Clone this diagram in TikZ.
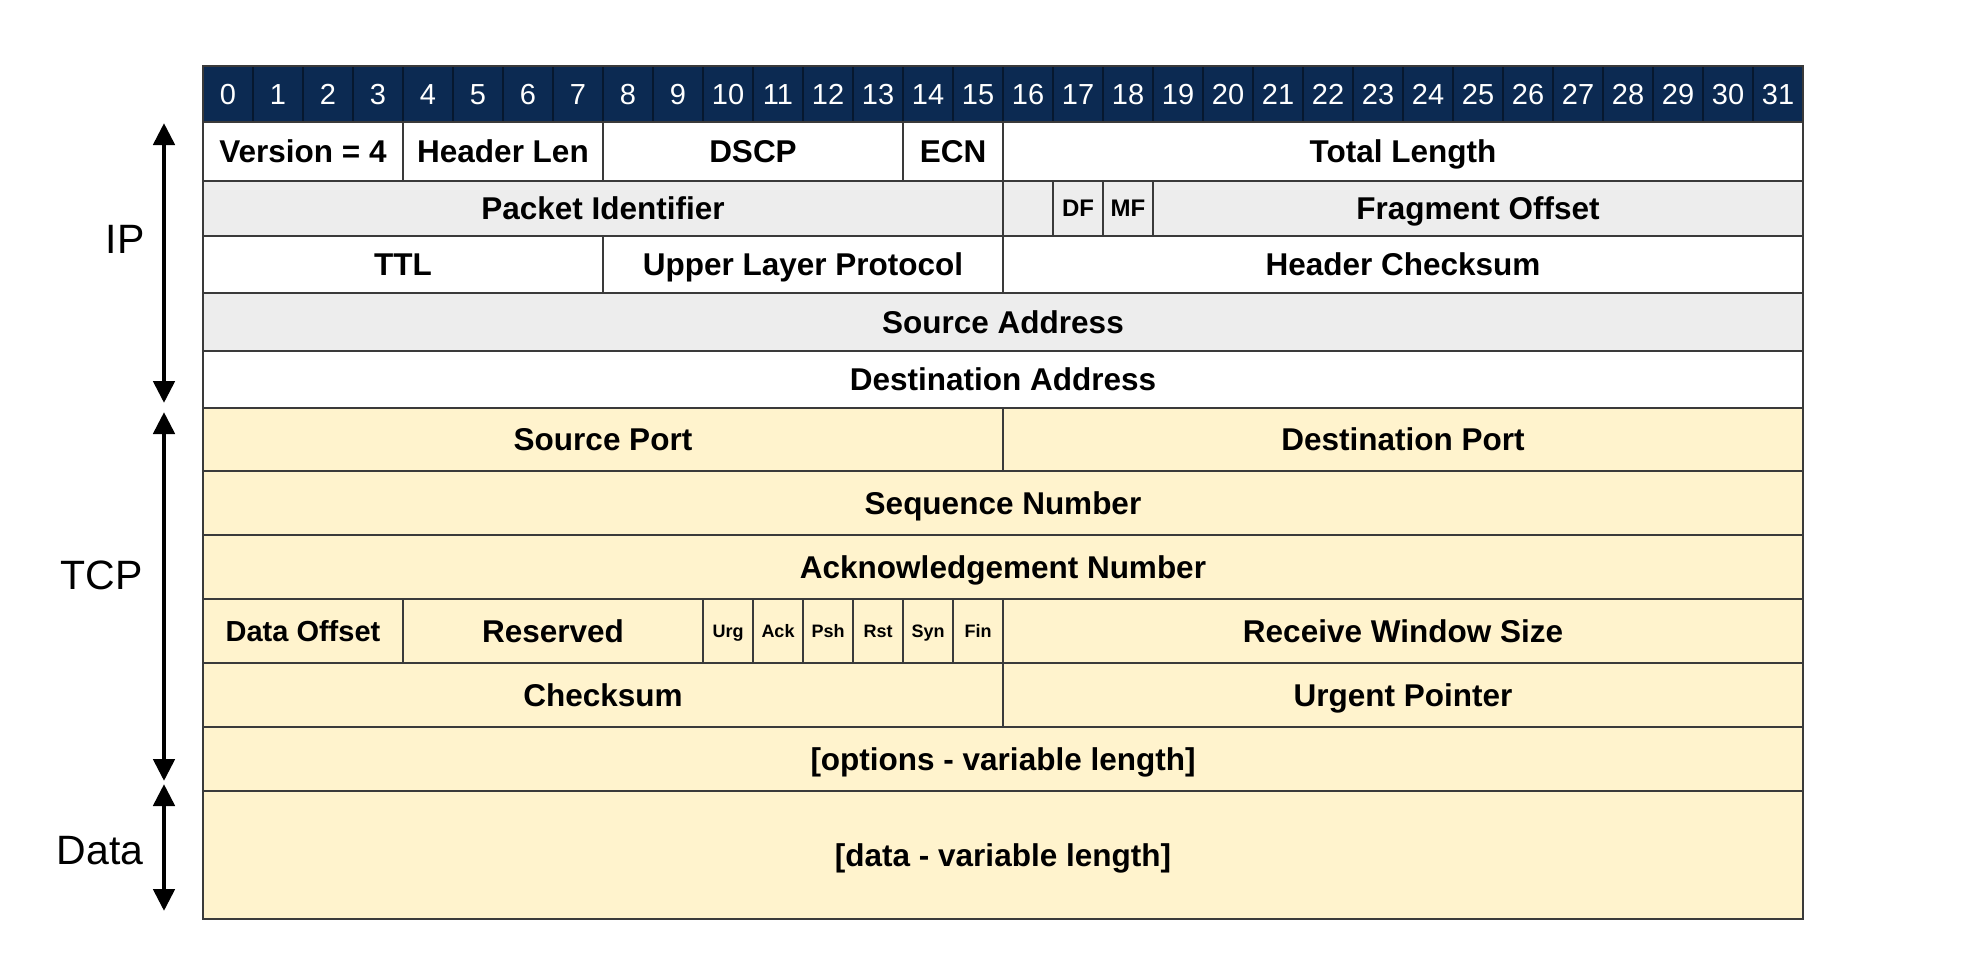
\documentclass[tikz,border=0pt]{standalone}
\usepackage{fontspec}
\setmainfont{Liberation Sans}
\usetikzlibrary{arrows.meta}

\definecolor{hdrblue}{HTML}{0C2A52}
\definecolor{hdrline}{HTML}{06182F}
\definecolor{rowgray}{HTML}{EDEDED}
\definecolor{rowcream}{HTML}{FFF3CD}
\definecolor{edge}{HTML}{3A3A3A}

% one field of the header: name, first bit, bit after last, top y, bottom y, style, text
\newcommand{\fld}[7]{%
  \pgfmathsetmacro\fldw{(#3-#2)*25}%
  \pgfmathsetmacro\fldh{(#5-#4)*0.5}%
  \pgfmathsetmacro\fldx{203+(#2+#3)*25}%
  \pgfmathsetmacro\fldy{(#4+#5)/2}%
  \node[#6, minimum width=\fldw pt, minimum height=\fldh pt] (#1) at (\fldx,\fldy) {#7};%
}

\begin{document}
\begin{tikzpicture}[x=0.5pt,y=-0.5pt,
  cell/.style={rectangle, draw=edge, line width=1pt, inner sep=0pt, outer sep=0pt,
    text height=11.3pt, text depth=0pt, font=\fontsize{15.75}{18}\selectfont\bfseries},
  fw/.style={cell, fill=white},
  fg/.style={cell, fill=rowgray},
  fc/.style={cell, fill=rowcream},
  flagtxt/.style={text height=6.45pt, font=\fontsize{9}{10}\selectfont\bfseries},
  ipflag/.style={text height=8.6pt, font=\fontsize{12}{14}\selectfont\bfseries},
  smalltxt/.style={text height=10.4pt, font=\fontsize{14.5}{17}\selectfont\bfseries},
  hdrcell/.style={rectangle, draw=hdrline, line width=1pt, fill=hdrblue, text=white,
    inner sep=0pt, outer sep=0pt, text height=10.4pt, text depth=0pt,
    font=\fontsize{14.5}{17}\selectfont},
  layer/.style={font=\fontsize{20.5}{24}\selectfont, anchor=east, inner sep=0pt},
  span/.style={{Triangle[width=10.5pt,length=11pt]}-{Triangle[width=10.5pt,length=11pt]},
    line width=2.4pt, black}
]
\useasboundingbox (0,0) rectangle (1968,960);

% bit numbers
\foreach \b in {0,...,31} {
  \node[hdrcell, minimum width=25pt, minimum height=28pt] (bit\b) at ({228+50*\b},94) {\b};
}

% IP header
\fld{ver}{0}{4}{122}{180.5}{fw}{Version = 4}
\fld{hlen}{4}{8}{122}{180.5}{fw}{Header Len}
\fld{dscp}{8}{14}{122}{180.5}{fw}{DSCP}
\fld{ecn}{14}{16}{122}{180.5}{fw}{ECN}
\fld{tlen}{16}{32}{122}{180.5}{fw}{Total Length}

\fld{pid}{0}{16}{180.5}{236}{fg}{Packet Identifier}
\fld{rsv}{16}{17}{180.5}{236}{fg}{}
\fld{df}{17}{18}{180.5}{236}{fg,ipflag}{DF}
\fld{mf}{18}{19}{180.5}{236}{fg,ipflag}{MF}
\fld{frag}{19}{32}{180.5}{236}{fg}{Fragment Offset}

\fld{ttl}{0}{8}{236}{292.5}{fw}{TTL}
\fld{ulp}{8}{16}{236}{292.5}{fw}{Upper Layer Protocol}
\fld{hcs}{16}{32}{236}{292.5}{fw}{Header Checksum}

\fld{src}{0}{32}{292.5}{351}{fg}{Source Address}
\fld{dst}{0}{32}{351}{408}{fw}{Destination Address}

% TCP header
\fld{sport}{0}{16}{408}{471}{fc}{Source Port}
\fld{dport}{16}{32}{408}{471}{fc}{Destination Port}
\fld{seq}{0}{32}{471}{535}{fc}{Sequence Number}
\fld{ack}{0}{32}{535}{599}{fc}{Acknowledgement Number}

\fld{doff}{0}{4}{599}{663}{fc,smalltxt}{Data Offset}
\fld{tres}{4}{10}{599}{663}{fc}{Reserved}
\fld{urg}{10}{11}{599}{663}{fc,flagtxt}{Urg}
\fld{ackf}{11}{12}{599}{663}{fc,flagtxt}{Ack}
\fld{psh}{12}{13}{599}{663}{fc,flagtxt}{Psh}
\fld{rst}{13}{14}{599}{663}{fc,flagtxt}{Rst}
\fld{syn}{14}{15}{599}{663}{fc,flagtxt}{Syn}
\fld{fin}{15}{16}{599}{663}{fc,flagtxt}{Fin}
\fld{rwin}{16}{32}{599}{663}{fc}{Receive Window Size}

\fld{tcs}{0}{16}{663}{727}{fc}{Checksum}
\fld{urgp}{16}{32}{663}{727}{fc}{Urgent Pointer}
\fld{opts}{0}{32}{727}{791}{fc}{[options - variable length]}

% payload
\fld{data}{0}{32}{791}{919}{fc}{[data - variable length]}

% outer frame
\draw[edge, line width=1.3pt] (bit0.north west) rectangle (data.south east);

% layer spans
\coordinate (ipTop) at (164,123);
\coordinate (ipBot) at (164,403);
\coordinate (tcpTop) at (164,412);
\coordinate (tcpBot) at (164,781);
\coordinate (dataTop) at (164,784);
\coordinate (dataBot) at (164,911);
\draw[span] (ipTop) -- (ipBot);
\draw[span] (tcpTop) -- (tcpBot);
\draw[span] (dataTop) -- (dataBot);

\node[layer] (lip) at (145,239) {IP};
\node[layer] (ltcp) at (143,575) {TCP};
\node[layer] (ldata) at (144,851) {Data};
\end{tikzpicture}
\end{document}
